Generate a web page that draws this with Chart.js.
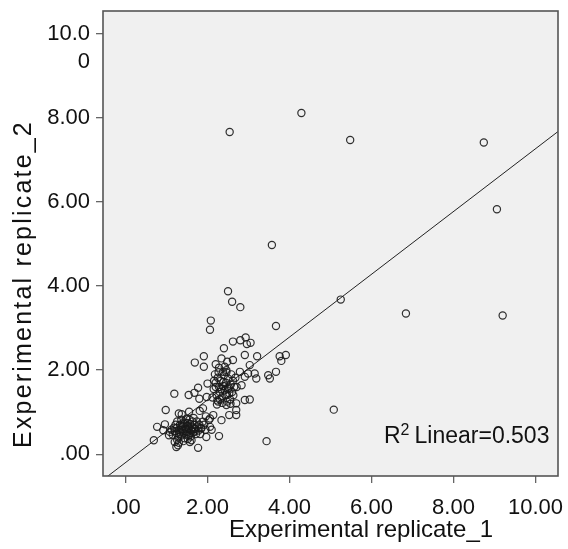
<!DOCTYPE html>
<html><head><meta charset="utf-8">
<script src="https://cdn.jsdelivr.net/npm/chart.js@4/dist/chart.umd.min.js"></script>
<style>html,body{margin:0;padding:0;background:#fff;}canvas{display:block}</style>
</head><body>
<canvas id="c" width="568" height="549"></canvas>
<script>
// Experimental replicate_1 (x) and replicate_2 (y)
const replicate1 = [
  2.54,4.29,5.48,8.74,9.06,3.57,2.50,2.60,2.80,5.25,6.84,9.20,3.67,5.08,3.44,
  2.08,2.06,2.62,2.80,2.93,2.96,3.05,2.40,1.91,1.69,2.34,2.48,2.91,3.21,3.76,3.91,3.80,
  1.91,2.20,2.28,2.42,2.62,3.03,2.38,2.46,2.79,2.91,2.99,3.15,3.19,3.48,3.52,3.67,
  2.00,2.83,2.71,2.91,3.03,2.70,2.46,2.26,2.70,2.70,2.53,2.23,
  1.19,1.54,1.68,1.77,1.80,1.98,1.81,1.96,2.03,0.98,1.30,1.55,1.89,1.37,
  0.77,0.96,0.92,0.69,1.08,1.06,2.06,2.14,2.34,1.85,2.06,1.97,2.28,1.77,
  1.20,1.24,1.28,1.57,1.61,2.10,
  1.20,1.25,1.30,1.33,1.38,1.40,1.42,1.45,1.47,1.50,1.52,1.55,1.57,1.60,1.62,1.65,1.68,1.70,
  1.28,1.35,1.44,1.52,1.58,1.63,1.72,1.75,1.78,1.22,1.18,1.26,1.36,1.48,1.56,1.66,1.74,1.80,
  1.84,1.82,1.40,1.46,1.54,1.61,1.31,1.37,1.43,1.49,1.59,1.67,1.24,1.34,1.51,1.69,1.88,1.92,
  1.95,1.26,1.30,1.41,1.12,1.15,
  2.15,2.20,2.22,2.25,2.28,2.30,2.32,2.35,2.38,2.40,2.42,2.45,2.47,2.50,2.52,2.55,2.57,2.60,
  2.62,2.18,2.24,2.36,2.48,2.58,2.65,2.12,2.27,2.33,2.44,2.53,2.39,2.20,2.63,2.68,2.30,2.46,
  2.56,2.16,2.41,2.50
];
const replicate2 = [
  7.67,8.12,7.48,7.42,5.83,4.98,3.88,3.63,3.50,3.68,3.35,3.30,3.05,1.06,0.31,
  3.18,2.96,2.68,2.71,2.78,2.62,2.65,2.52,2.33,2.18,2.28,2.20,2.36,2.33,2.33,2.36,2.22,
  2.08,2.14,2.06,2.08,2.24,2.12,1.96,2.00,1.96,1.84,1.92,1.92,1.80,1.88,1.80,1.96,
  1.68,1.64,1.60,1.29,1.30,1.21,1.17,1.25,1.05,0.93,0.93,1.18,
  1.44,1.41,1.46,1.58,1.32,1.36,1.03,0.90,0.81,1.05,0.97,1.01,1.09,0.95,
  0.65,0.71,0.57,0.33,0.53,0.45,0.85,0.93,0.81,0.61,0.65,0.41,0.43,0.15,
  0.29,0.17,0.21,0.29,0.33,0.58,
  0.55,0.62,0.48,0.70,0.58,0.66,0.50,0.75,0.60,0.54,0.68,0.45,0.72,0.58,0.64,0.52,0.70,0.60,
  0.40,0.44,0.38,0.36,0.50,0.78,0.48,0.66,0.56,0.70,0.63,0.78,0.82,0.84,0.82,0.86,0.78,0.70,
  0.62,0.48,0.55,0.64,0.61,0.55,0.58,0.68,0.72,0.47,0.42,0.61,0.50,0.52,0.74,0.54,0.77,0.70,
  0.58,0.34,0.27,0.31,0.58,0.46,
  1.55,1.70,1.40,1.82,1.60,1.48,1.75,1.35,1.62,1.88,1.52,1.70,1.42,1.80,1.58,1.30,1.66,1.48,
  1.75,1.90,1.28,1.22,1.25,1.90,1.60,1.35,1.95,1.55,1.40,1.45,1.72,1.60,1.40,1.82,1.30,1.95,
  1.20,1.75,1.62,1.55
];
const xTickValues = [0, 2, 4, 6, 8, 10];
const xTickLabels = ['.00', '2.00', '4.00', '6.00', '8.00', '10.00'];
const yTickValues = [0, 2, 4, 6, 8, 10];
const yTickLabels = ['.00', '2.00', '4.00', '6.00', '8.00', ['', '10.0', '0']];
const fitSlope = 0.747;
const fitIntercept = -0.2;
const fitLabel = 'Linear=0.503';
const xTitle = 'Experimental replicate_1';
const yTitle = 'Experimental replicate_2';

const FONT = "'Liberation Sans', Arial, sans-serif";
const xMin = -0.55, xMax = 10.55, yMin = -0.52, yMax = 10.55;

const points = replicate1.map((x, i) => ({x, y: replicate2[i]}));
const fitLine = [xMin - 1, xMax + 1].map(x => ({x, y: fitSlope * x + fitIntercept}));

const decor = {
  id: 'decor',
  beforeDraw(chart) {
    const {ctx, chartArea: a} = chart;
    ctx.save();
    ctx.fillStyle = '#ffffff';
    ctx.fillRect(0, 0, chart.width, chart.height);
    ctx.fillStyle = '#f0f0f0';
    ctx.fillRect(a.left, a.top, a.right - a.left, a.bottom - a.top);
    ctx.restore();
  },
  afterDatasetsDraw(chart) {
    const {ctx, chartArea: a} = chart;
    ctx.save();
    ctx.strokeStyle = '#555555';
    ctx.lineWidth = 1.6;
    ctx.strokeRect(a.left, a.top, a.right - a.left, a.bottom - a.top);
    ctx.restore();
  },
  afterDraw(chart) {
    const {ctx, chartArea: a} = chart;
    ctx.save();
    ctx.fillStyle = '#111111';
    // x title
    ctx.font = '24px ' + FONT;
    ctx.textAlign = 'center';
    ctx.textBaseline = 'alphabetic';
    ctx.fillText(xTitle, 361, 537);
    // y title
    ctx.save();
    ctx.translate(31, 284);
    ctx.rotate(-Math.PI / 2);
    ctx.font = '25px ' + FONT;
    try { ctx.letterSpacing = '2.2px'; } catch (e) {}
    ctx.fillText(yTitle, 0, 0);
    ctx.restore();
    // R² annotation
    ctx.textAlign = 'left';
    const base = a.bottom - 33;
    let x = a.right - 174;
    ctx.font = '23px ' + FONT;
    ctx.fillText('R', x, base);
    x += ctx.measureText('R').width;
    ctx.font = '16px ' + FONT;
    ctx.fillText('2', x, base - 8);
    x += ctx.measureText('2').width + 5;
    ctx.font = '23px ' + FONT;
    ctx.fillText(fitLabel, x, base);
    ctx.restore();
  }
};

new Chart(document.getElementById('c'), {
  data: {
    datasets: [
      {
        type: 'scatter',
        data: points,
        pointStyle: 'circle',
        pointRadius: 3.6,
        pointBorderWidth: 1.2,
        pointBorderColor: 'rgba(25,25,25,0.9)',
        pointBackgroundColor: 'rgba(0,0,0,0)',
        order: 1
      },
      {
        type: 'line',
        data: fitLine,
        borderColor: '#222222',
        borderWidth: 1,
        pointRadius: 0,
        fill: false,
        clip: 0,
        order: 2
      }
    ]
  },
  options: {
    responsive: false,
    animation: false,
    devicePixelRatio: 1,
    layout: {padding: {top: 11, right: 10, left: 0, bottom: 0}},
    plugins: {legend: {display: false}, tooltip: {enabled: false}},
    scales: {
      x: {
        type: 'linear', min: xMin, max: xMax,
        afterBuildTicks: s => { s.ticks = xTickValues.map(v => ({value: v})); },
        afterFit: s => { s.height = 73; s.paddingLeft = 0; s.paddingRight = 0; },
        ticks: {
          callback: (v, i) => xTickLabels[i],
          font: {size: 22, family: FONT},
          color: '#111111', padding: 12, maxRotation: 0, autoSkip: false
        },
        grid: {drawOnChartArea: false, drawTicks: true, tickLength: 7, color: '#666666', lineWidth: 1.3},
        border: {display: false}
      },
      y: {
        type: 'linear', min: yMin, max: yMax,
        afterBuildTicks: s => { s.ticks = yTickValues.map(v => ({value: v})); },
        afterFit: s => { s.width = 103; s.paddingTop = 0; s.paddingBottom = 0; },
        ticks: {
          callback: (v, i) => yTickLabels[i],
          font: {size: 22, family: FONT, lineHeight: 1.27},
          color: '#111111', padding: 6, autoSkip: false
        },
        grid: {drawOnChartArea: false, drawTicks: true, tickLength: 7, color: '#666666', lineWidth: 1.3},
        border: {display: false}
      }
    }
  },
  plugins: [decor]
});
</script>
</body></html>
